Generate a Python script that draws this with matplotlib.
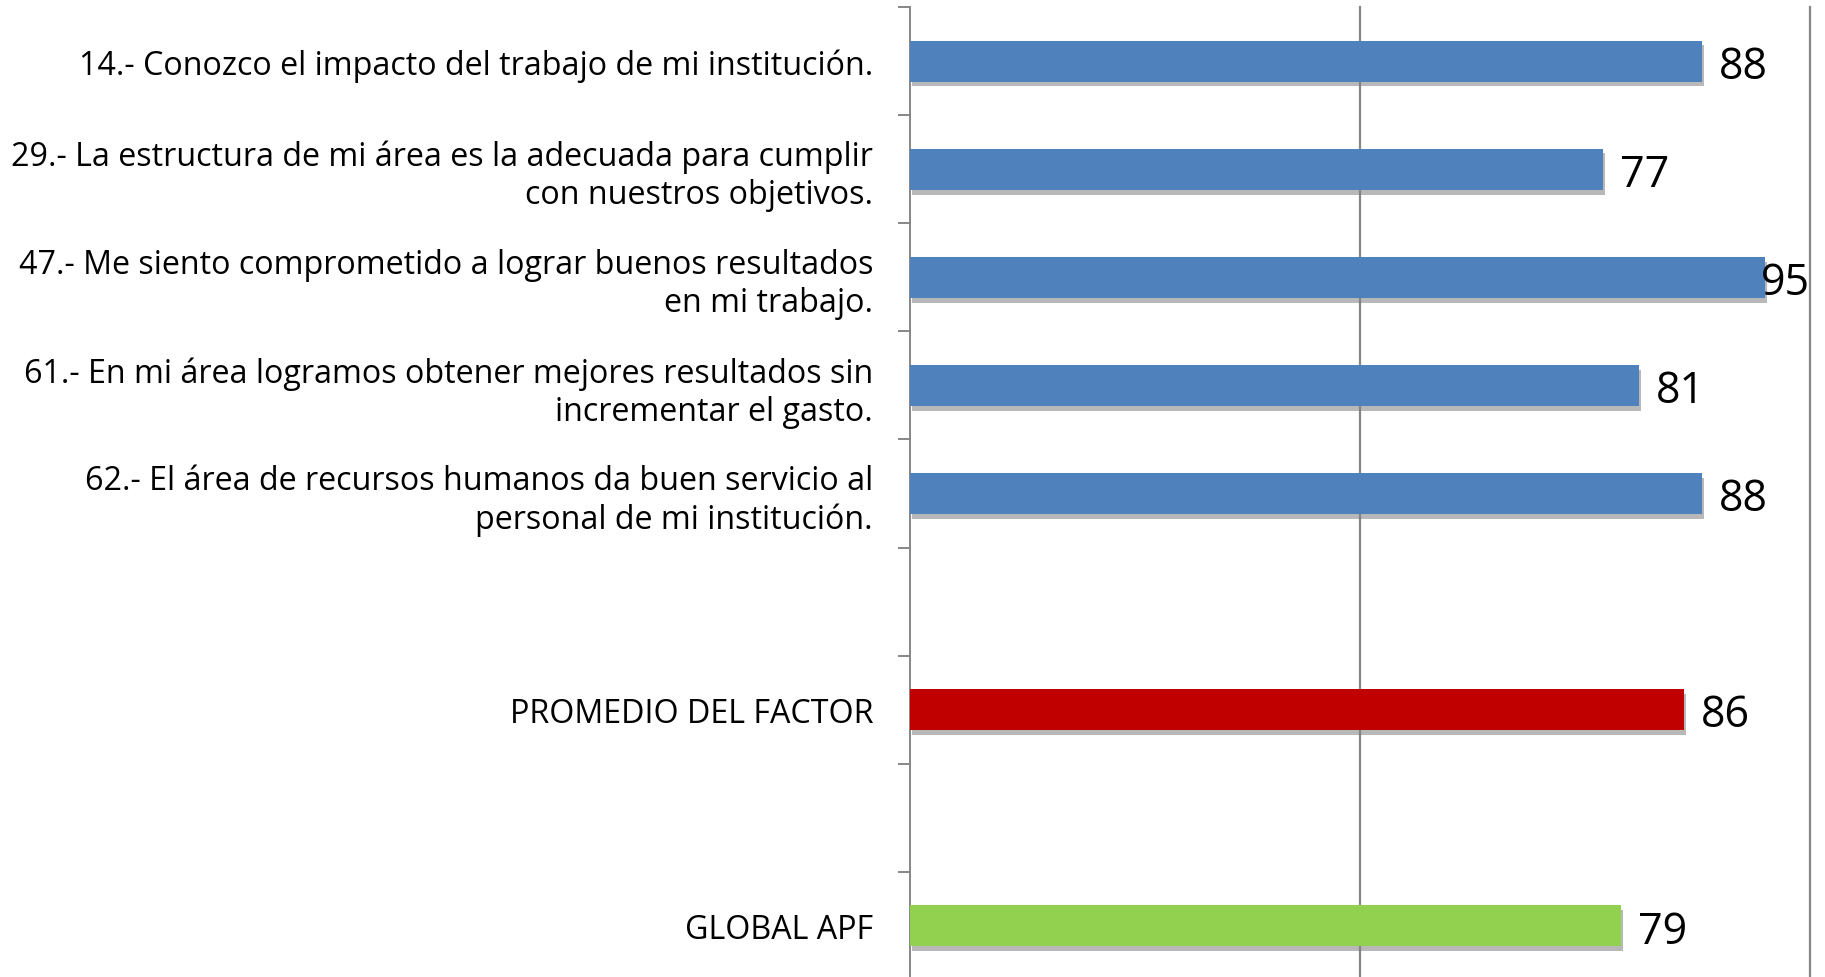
import numpy as np
import matplotlib
matplotlib.use("Agg")
import matplotlib.pyplot as plt
import matplotlib.patheffects as pe

categories = [
    "14.- Conozco el impacto del trabajo de mi institución.",
    "29.- La estructura de mi área es la adecuada para cumplir\ncon nuestros objetivos.",
    "47.- Me siento comprometido a lograr buenos resultados\nen mi trabajo.",
    "61.- En mi área logramos obtener mejores resultados sin\nincrementar el gasto.",
    "62.- El área de recursos humanos da buen servicio al\npersonal de mi institución.",
    "",
    "PROMEDIO DEL FACTOR",
    "",
    "GLOBAL APF",
]
values = [88, 77, 95, 81, 88, None, 86, None, 79]
groups = ["item", "item", "item", "item", "item", None, "factor", None, "global"]
group_colors = {"item": "#4F81BD", "factor": "#C00000", "global": "#92D050"}

FONT = "Open Sans"
W, H = 1825, 978
fig = plt.figure(figsize=(W / 100, H / 100), dpi=100)
fig.patch.set_facecolor("white")
ax_left, ax_right = 910 / W, 1810 / W
ax_top, ax_bot = 1 - 8 / H, 1 - 981 / H
ax = fig.add_axes([ax_left, ax_bot, ax_right - ax_left, ax_top - ax_bot])

n = len(categories)
pos = np.arange(n)
grid_c = "#868686"

for x in (50, 100):
    ax.axvline(x, color=grid_c, lw=1.6, zorder=1, clip_on=False)

shadow = [pe.SimplePatchShadow(offset=(1.5, -3.5), shadow_rgbFace="#7f7f7f", alpha=0.55), pe.Normal()]
texts = []
for i, (v, g) in enumerate(zip(values, groups)):
    if v is None:
        continue
    b = ax.barh(pos[i], v, height=0.38, color=group_colors[g], edgecolor="none", zorder=3)
    for p in b.patches:
        p.set_path_effects(shadow)
    t = ax.annotate(f"{v}", xy=(v, pos[i]), xytext=(12.2, 0), textcoords="offset points",
                    ha="left", va="center_baseline", fontsize=31, family=FONT, color="black", zorder=5,
                    annotation_clip=False)
    texts.append((t, v, pos[i]))

ax.set_xlim(0, 100)
ax.set_ylim(n - 0.5, -0.5)

ax.set_yticks(pos)
ax.set_yticklabels(categories, family=FONT, fontsize=23.2, ha="right", linespacing=1.2)
ax.tick_params(axis="y", which="major", length=0, pad=26.6)
ax.set_yticks(np.arange(n + 1) - 0.5, minor=True)
ax.tick_params(axis="y", which="minor", length=8.6, width=1.4, color=grid_c, direction="out")
ax.set_xticks([])

for s in ("top", "right", "bottom"):
    ax.spines[s].set_visible(False)
ax.spines["left"].set_color(grid_c)
ax.spines["left"].set_linewidth(1.4)
ax.set_facecolor("white")

# keep value labels inside the plot area (as in the original)
fig.canvas.draw()
r = fig.canvas.get_renderer()
ax_bbox = ax.get_window_extent(r)
for t, v, y in texts:
    bb = t.get_window_extent(r)
    if bb.x1 > ax_bbox.x1:
        t.set_position((0, 0))
        t.xy = (100, y)
        t.set_ha("right")

fig.savefig("out.png", dpi=100, facecolor="white")
